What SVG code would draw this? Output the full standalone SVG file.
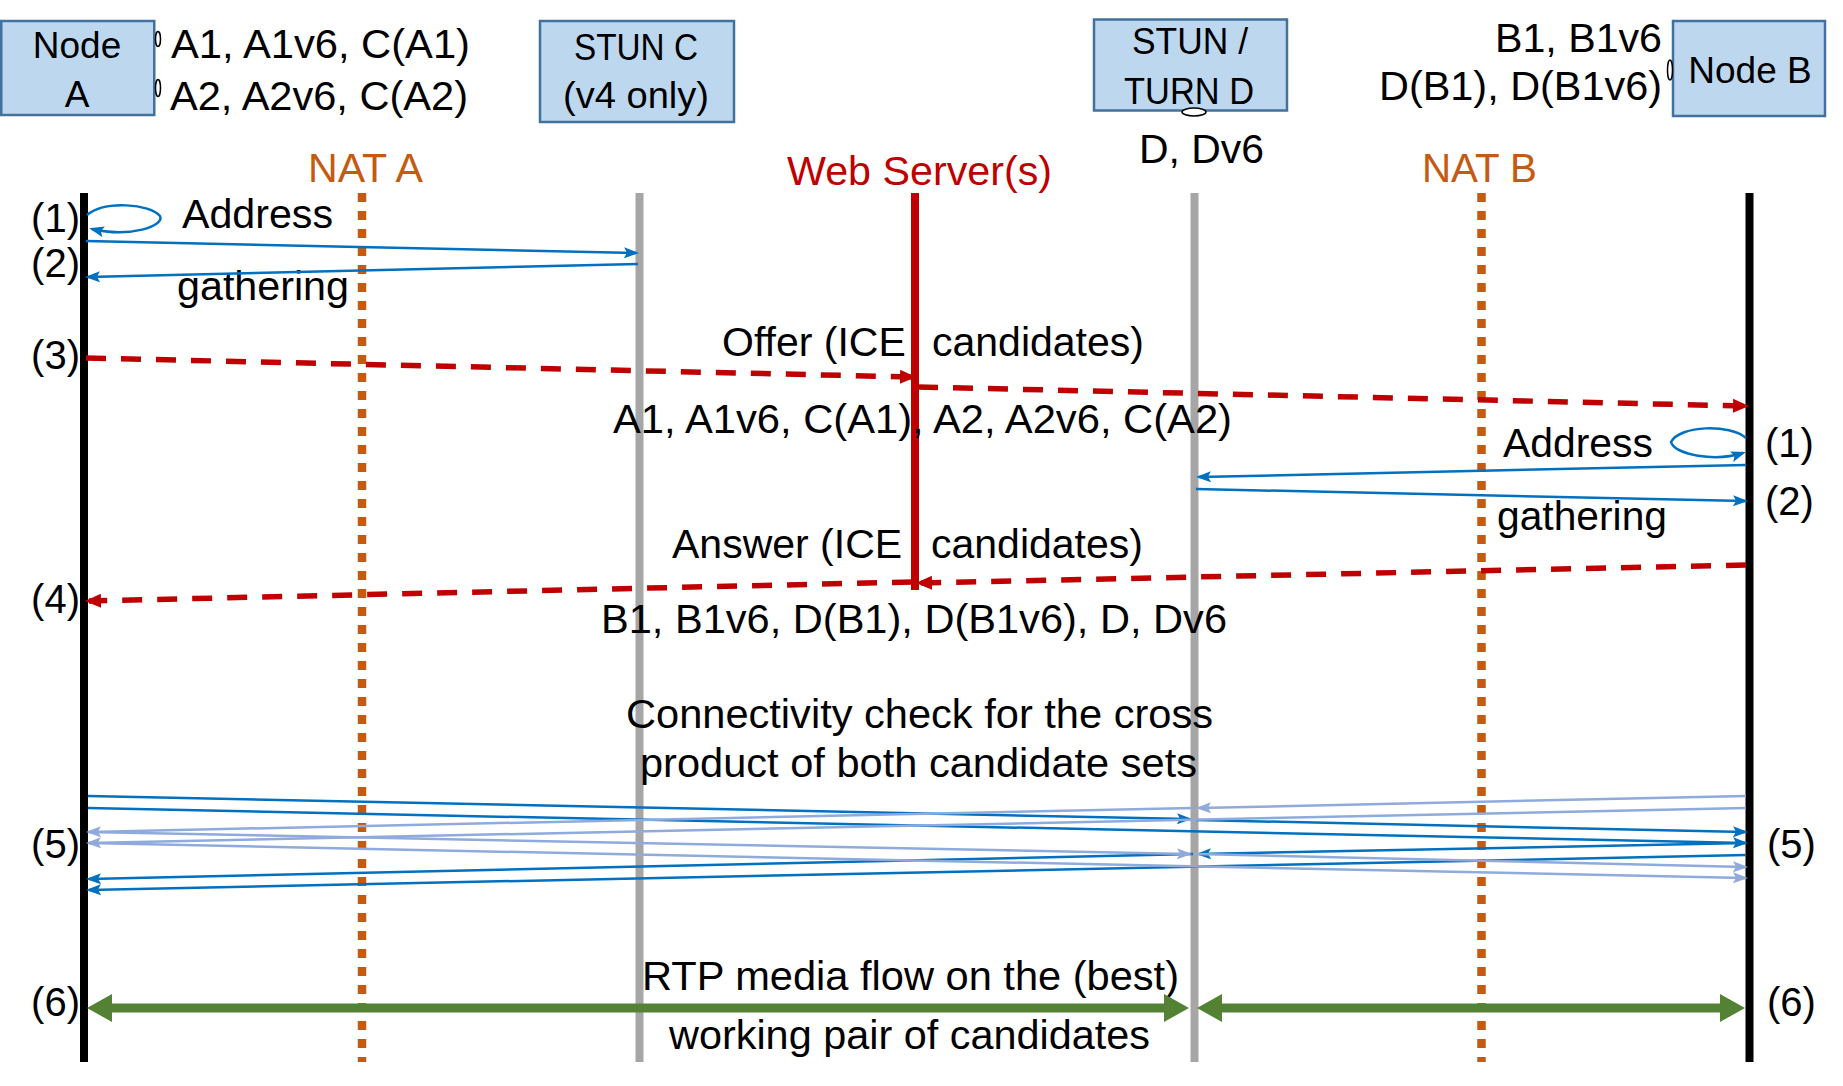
<svg xmlns="http://www.w3.org/2000/svg" width="1843" height="1086" viewBox="0 0 1843 1086">
<style>
text{font-family:"Liberation Sans",Arial,sans-serif;fill:#000}
.box{fill:#BDD7EE;stroke:#41719C;stroke-width:2.5}
.bl{font-size:37px;text-anchor:middle}
.t41{font-size:41px}
.t40{font-size:40px}
.nat{fill:#C55A11;font-size:40px}
.life{stroke-width:8;fill:none}
.natl{stroke:#C55A11;stroke-width:8.5;stroke-dasharray:9 9;fill:none}
.dk{stroke:#0070C0;stroke-width:2.5;fill:none;marker-end:url(#ad)}
.lt{stroke:#8FAADC;stroke-width:2.5;fill:none;marker-end:url(#al)}
.rd{stroke:#C00000;stroke-width:5.5;stroke-dasharray:20 15;fill:none;marker-end:url(#ar)}
.gr{stroke:#548235;stroke-width:9;fill:none;marker-start:url(#ag);marker-end:url(#ag)}
.dot{fill:#fff;stroke:#000;stroke-width:1.5}
</style>
<defs>
<marker id="ad" markerUnits="userSpaceOnUse" markerWidth="15" markerHeight="12" refX="12" refY="6" orient="auto"><path d="M0,0.5 L15,6 L0,11.5 L3,6 z" fill="#0070C0"/></marker>
<marker id="al" markerUnits="userSpaceOnUse" markerWidth="15" markerHeight="12" refX="12" refY="6" orient="auto"><path d="M0,0.5 L15,6 L0,11.5 L3,6 z" fill="#8FAADC"/></marker>
<marker id="ar" markerUnits="userSpaceOnUse" markerWidth="16" markerHeight="15" refX="12" refY="7.5" orient="auto"><path d="M0,0.5 L16,7.5 L0,14.5 z" fill="#C00000"/></marker>
<marker id="ag" markerUnits="userSpaceOnUse" markerWidth="25" markerHeight="28" refX="4" refY="14" orient="auto-start-reverse"><path d="M0,0 L25,14 L0,28 z" fill="#548235"/></marker>
</defs>
<rect width="1843" height="1086" fill="#fff"/>

<g id="nodeA">
<rect class="box" x="1.25" y="21" width="153" height="94"/>
<text class="bl" x="77" y="58">Node</text>
<text class="bl" x="77" y="107">A</text>
<line class="life" x1="84" y1="193" x2="84" y2="1062" stroke="#000"/>
</g>
<g id="labelsA">
<ellipse class="dot" cx="158" cy="39" rx="2.5" ry="7.5"/>
<ellipse class="dot" cx="158" cy="88" rx="2.5" ry="8.5"/>
<text class="t41" x="171" y="58" textLength="299" lengthAdjust="spacingAndGlyphs">A1, A1v6, C(A1)</text>
<text class="t41" x="170" y="110" textLength="298" lengthAdjust="spacingAndGlyphs">A2, A2v6, C(A2)</text>
</g>
<g id="natA">
<text class="nat" x="308" y="182" textLength="115" lengthAdjust="spacingAndGlyphs">NAT A</text>
<line class="natl" x1="362" y1="193" x2="362" y2="1062"/>
</g>
<g id="stunC">
<rect class="box" x="540" y="21" width="194" height="101"/>
<text class="bl" x="636" y="60" font-size="35" textLength="124" lengthAdjust="spacingAndGlyphs">STUN C</text>
<text class="bl" x="636" y="108" font-size="35" textLength="146" lengthAdjust="spacingAndGlyphs">(v4 only)</text>
<line class="life" x1="639.5" y1="193" x2="639.5" y2="1062" stroke="#A6A6A6" stroke-width="9"/>
</g>
<g id="webServer">
<text x="787" y="185" font-size="41" style="fill:#C00000" textLength="265" lengthAdjust="spacingAndGlyphs">Web Server(s)</text>
<line class="life" x1="915" y1="193" x2="915" y2="590" stroke="#C00000" stroke-width="7"/>
</g>
<g id="stunD">
<rect class="box" x="1094" y="19.5" width="193" height="91"/>
<text class="bl" x="1190" y="54" font-size="35" textLength="116" lengthAdjust="spacingAndGlyphs">STUN /</text>
<text class="bl" x="1189" y="104" font-size="35" textLength="130" lengthAdjust="spacingAndGlyphs">TURN D</text>
<ellipse class="dot" cx="1194" cy="112" rx="12" ry="4"/>
<text class="t40" x="1139" y="163" textLength="125" lengthAdjust="spacingAndGlyphs">D, Dv6</text>
<line class="life" x1="1194.5" y1="193" x2="1194.5" y2="1062" stroke="#A6A6A6" stroke-width="9"/>
</g>
<g id="natB">
<text class="nat" x="1422" y="182" textLength="115" lengthAdjust="spacingAndGlyphs">NAT B</text>
<line class="natl" x1="1481.5" y1="193" x2="1481.5" y2="1062"/>
</g>
<g id="nodeB">
<rect class="box" x="1673" y="21" width="152" height="95"/>
<text class="bl" x="1750" y="83">Node B</text>
<line class="life" x1="1749.5" y1="193" x2="1749.5" y2="1062" stroke="#000"/>
</g>
<g id="labelsB">
<ellipse class="dot" cx="1670" cy="70" rx="2.5" ry="10"/>
<text class="t41" x="1662" y="52" text-anchor="end" textLength="167" lengthAdjust="spacingAndGlyphs">B1, B1v6</text>
<text class="t41" x="1662" y="100" text-anchor="end" textLength="283" lengthAdjust="spacingAndGlyphs">D(B1), D(B1v6)</text>
</g>

<g id="stepLabels">
<text class="t40" x="80" y="232" text-anchor="end">(1)</text>
<text class="t40" x="80" y="277" text-anchor="end">(2)</text>
<text class="t40" x="80" y="369" text-anchor="end">(3)</text>
<text class="t40" x="80" y="613" text-anchor="end">(4)</text>
<text class="t40" x="80" y="858" text-anchor="end">(5)</text>
<text class="t40" x="80" y="1016" text-anchor="end">(6)</text>
<text class="t40" x="1765" y="457">(1)</text>
<text class="t40" x="1765" y="515">(2)</text>
<text class="t40" x="1767" y="858">(5)</text>
<text class="t40" x="1767" y="1016">(6)</text>
</g>

<g id="messageLabels">
<text class="t41" x="182" y="228" textLength="151" lengthAdjust="spacingAndGlyphs">Address</text>
<text class="t41" x="177" y="300" textLength="172" lengthAdjust="spacingAndGlyphs">gathering</text>
<text class="t41" y="356"><tspan x="722">Offer (ICE</tspan><tspan x="932">candidates)</tspan></text>
<text class="t41" x="613" y="433" textLength="619" lengthAdjust="spacingAndGlyphs">A1, A1v6, C(A1), A2, A2v6, C(A2)</text>
<text class="t41" x="1503" y="457" textLength="150" lengthAdjust="spacingAndGlyphs">Address</text>
<text class="t41" x="1497" y="530" textLength="170" lengthAdjust="spacingAndGlyphs">gathering</text>
<text class="t41" y="558"><tspan x="672">Answer (ICE</tspan><tspan x="931">candidates)</tspan></text>
<text class="t41" x="601" y="633" textLength="626" lengthAdjust="spacingAndGlyphs">B1, B1v6, D(B1), D(B1v6), D, Dv6</text>
<text class="t41" x="626" y="728" textLength="587" lengthAdjust="spacingAndGlyphs">Connectivity check for the cross</text>
<text class="t41" x="640" y="777" textLength="557" lengthAdjust="spacingAndGlyphs">product of both candidate sets</text>
<text class="t41" x="642" y="990" textLength="537" lengthAdjust="spacingAndGlyphs">RTP media flow on the (best)</text>
<text class="t41" x="669" y="1049" textLength="481" lengthAdjust="spacingAndGlyphs">working pair of candidates</text>
</g>

<g id="connectors">
<path class="dk" d="M87,215 C105,200 150,204 160,216 C165,226 130,238 92,229"/>
<path class="dk" d="M86,241 L636,253"/>
<path class="dk" d="M638,264 L88,277"/>
<path class="rd" d="M86,358 L912,377"/>
<path class="rd" d="M918,387 L1745,406"/>
<path class="dk" d="M1746,438 C1730,424 1680,425 1671,442 C1675,455 1715,462 1743,453"/>
<path class="dk" d="M1746,465 L1199,477"/>
<path class="dk" d="M1196,489 L1745,501"/>
<path class="rd" d="M1746,565 L920,583"/>
<path class="rd" d="M912,582 L89,601"/>

<path class="dk" d="M88,796 L1189,819"/>
<path class="dk" d="M1196,820 L1745,832"/>
<path class="dk" d="M88,808 L1745,843"/>
<path class="dk" d="M1746,843 L1199,854"/>
<path class="dk" d="M1193,854 L89,879"/>
<path class="dk" d="M1746,855 L89,890"/>
<path class="lt" d="M1746,796 L1199,808"/>
<path class="lt" d="M1193,808 L89,832"/>
<path class="lt" d="M1746,808 L89,843"/>
<path class="lt" d="M88,832 L1189,854"/>
<path class="lt" d="M1196,854 L1745,867"/>
<path class="lt" d="M88,843 L1745,878"/>

<path class="gr" d="M108,1008 L1168,1008"/>
<path class="gr" d="M1218,1008 L1724,1008"/>
</g>
</svg>
